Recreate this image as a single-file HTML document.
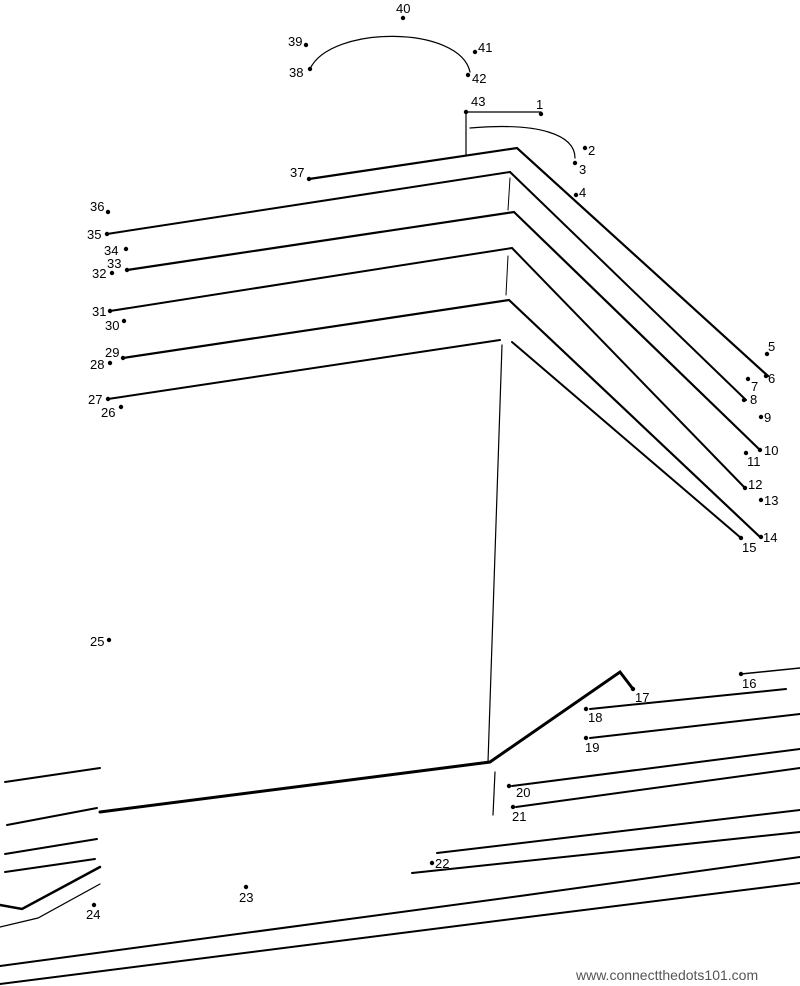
<!DOCTYPE html>
<html><head><meta charset="utf-8"><style>
html,body{margin:0;padding:0;background:#fff;width:800px;height:986px;overflow:hidden}
svg text{font-family:"Liberation Sans",sans-serif;font-size:13px;fill:#000}
</style></head><body>
<svg width="800" height="986" viewBox="0 0 800 986" xmlns="http://www.w3.org/2000/svg">
<g fill="none" stroke="#000" stroke-linecap="round" stroke-linejoin="miter">
<path d="M310,69 C330,25 460,25 470,72" stroke-width="1.2"/>
<path d="M466,112 L466,155 M466,112 L541,112" stroke-width="1.2"/>
<path d="M470,128 C540,122 575,135 575,158" stroke-width="1.2"/>
<path d="M309,179 L517,148 L768,376" stroke-width="2.2"/>
<path d="M107,234 L510,172 L746,400" stroke-width="2"/>
<path d="M510,178 L508,210" stroke-width="1"/>
<path d="M127,270 L514,212 L760,450" stroke-width="2.2"/>
<path d="M110,311 L512,248 L745,488" stroke-width="2"/>
<path d="M508,256 L506,295" stroke-width="1"/>
<path d="M123,358 L509,300 L760,537" stroke-width="2.2"/>
<path d="M108,399 L500,340" stroke-width="2"/>
<path d="M512,342 L741,538" stroke-width="2"/>
<path d="M502,345 L488,762" stroke-width="1.2"/>
<path d="M100,812 L490,762 L620,672 L633,689" stroke-width="3"/>
<path d="M620,672 L633,689" stroke-width="1.2"/>
<path d="M495,772 L493,815" stroke-width="1.2"/>
<path d="M741,674 L800,668" stroke-width="1.5"/>
<path d="M590,709 L786,689" stroke-width="2"/>
<path d="M590,738 L800,714" stroke-width="2"/>
<path d="M512,786 L800,749" stroke-width="2"/>
<path d="M516,807 L800,768" stroke-width="2"/>
<path d="M437,853 L800,810" stroke-width="2"/>
<path d="M412,873 L800,832" stroke-width="2"/>
<path d="M0,966 L520,896 L800,857" stroke-width="2"/>
<path d="M0,984 L520,918 L800,883" stroke-width="2"/>
<path d="M5,782 L100,768" stroke-width="2"/>
<path d="M7,825 L97,808" stroke-width="2"/>
<path d="M5,854 L97,839" stroke-width="2"/>
<path d="M5,872 L95,859" stroke-width="2"/>
<path d="M0,905 L22,909 L100,867" stroke-width="2.5"/>
<path d="M0,927 L38,918 L100,884" stroke-width="1.2"/>
</g>
<g fill="#000">
<circle cx="403" cy="18" r="2.2"/><circle cx="306" cy="45" r="2.2"/><circle cx="475" cy="52" r="2.2"/>
<circle cx="310" cy="69" r="2.2"/><circle cx="468" cy="75" r="2.2"/><circle cx="466" cy="112" r="2.2"/>
<circle cx="541" cy="114" r="2.2"/><circle cx="585" cy="148" r="2.2"/><circle cx="575" cy="163" r="2.2"/>
<circle cx="576" cy="195" r="2.2"/><circle cx="309" cy="179" r="2.2"/><circle cx="108" cy="212" r="2.2"/>
<circle cx="107" cy="234" r="2.2"/><circle cx="126" cy="249" r="2.2"/><circle cx="127" cy="270" r="2.2"/>
<circle cx="112" cy="273" r="2.2"/><circle cx="110" cy="311" r="2.2"/><circle cx="124" cy="321" r="2.2"/>
<circle cx="123" cy="358" r="2.2"/><circle cx="110" cy="363" r="2.2"/><circle cx="108" cy="399" r="2.2"/>
<circle cx="121" cy="407" r="2.2"/><circle cx="767" cy="354" r="2.2"/><circle cx="766" cy="376" r="2.2"/>
<circle cx="748" cy="379" r="2.2"/><circle cx="744" cy="400" r="2.2"/><circle cx="761" cy="417" r="2.2"/>
<circle cx="760" cy="450" r="2.2"/><circle cx="746" cy="453" r="2.2"/><circle cx="745" cy="488" r="2.2"/>
<circle cx="761" cy="500" r="2.2"/><circle cx="761" cy="537" r="2.2"/><circle cx="741" cy="538" r="2.2"/>
<circle cx="741" cy="674" r="2.2"/><circle cx="633" cy="689" r="2.2"/><circle cx="586" cy="709" r="2.2"/>
<circle cx="586" cy="738" r="2.2"/><circle cx="509" cy="786" r="2.2"/><circle cx="513" cy="807" r="2.2"/>
<circle cx="432" cy="863" r="2.2"/><circle cx="246" cy="887" r="2.2"/><circle cx="94" cy="905" r="2.2"/>
<circle cx="109" cy="640" r="2.2"/>
</g>
<g>
<text x="396" y="13">40</text><text x="288" y="46">39</text><text x="478" y="52">41</text>
<text x="289" y="77">38</text><text x="472" y="83">42</text><text x="471" y="106">43</text>
<text x="536" y="109">1</text><text x="588" y="155">2</text><text x="579" y="174">3</text>
<text x="579" y="197">4</text><text x="290" y="177">37</text><text x="90" y="211">36</text>
<text x="87" y="239">35</text><text x="104" y="255">34</text><text x="107" y="268">33</text>
<text x="92" y="278">32</text><text x="92" y="316">31</text><text x="105" y="330">30</text>
<text x="105" y="357">29</text><text x="90" y="369">28</text><text x="88" y="404">27</text>
<text x="101" y="417">26</text><text x="768" y="351">5</text><text x="768" y="383">6</text>
<text x="751" y="391">7</text><text x="750" y="404">8</text><text x="764" y="422">9</text>
<text x="764" y="455">10</text><text x="747" y="466">11</text><text x="748" y="489">12</text>
<text x="764" y="505">13</text><text x="763" y="542">14</text><text x="742" y="552">15</text>
<text x="742" y="688">16</text><text x="635" y="702">17</text><text x="588" y="722">18</text>
<text x="585" y="752">19</text><text x="516" y="797">20</text><text x="512" y="821">21</text>
<text x="435" y="868">22</text><text x="239" y="902">23</text><text x="86" y="919">24</text>
<text x="90" y="646">25</text>
</g>
<text x="576" y="980" style="font-size:14px;fill:#555">www.connectthedots101.com</text>
</svg>
</body></html>
